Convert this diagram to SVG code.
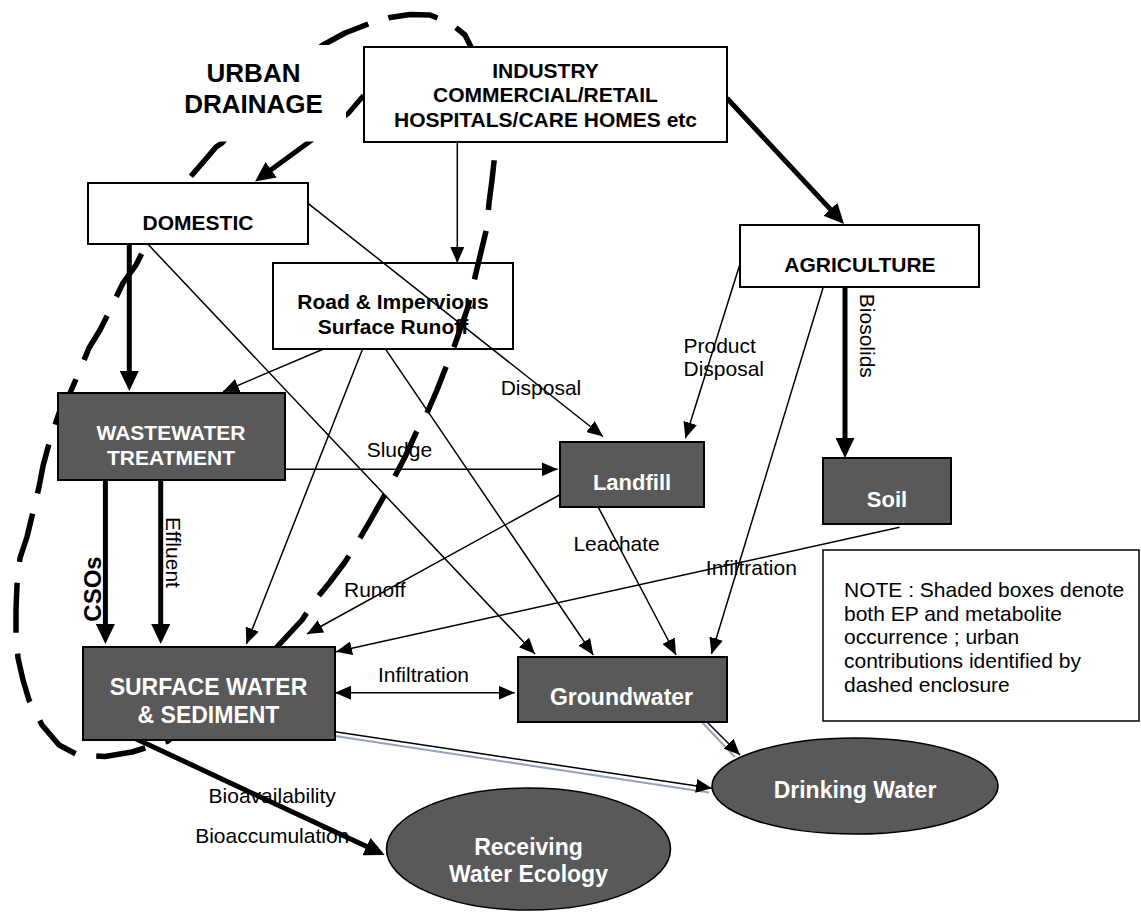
<svg xmlns="http://www.w3.org/2000/svg" width="1141" height="913" viewBox="0 0 1141 913">
<defs>
<style>
.box{fill:#fff;stroke:#000;stroke-width:2}
.dark{fill:#595959;stroke:#000;stroke-width:2}
.ell{fill:#595959;stroke:#000;stroke-width:1.6}
.tb{font-family:"Liberation Sans",Arial,sans-serif;font-weight:bold;font-size:21px;fill:#000;text-anchor:middle}
.tw{font-family:"Liberation Sans",Arial,sans-serif;font-weight:bold;font-size:21px;fill:#fff;text-anchor:middle}
.el{font-family:"Liberation Sans",Arial,sans-serif;font-size:21px;fill:#000}
.thin{stroke:#000;stroke-width:1.5;fill:none;marker-end:url(#ah)}
.thick{stroke:#000;stroke-width:5;fill:none;marker-end:url(#AH)}
.shadow{stroke:#94a3bb;stroke-width:2;fill:none}
.encl{fill:none;stroke:#000;stroke-width:5.5;stroke-dasharray:50 21;stroke-linejoin:round}
</style>
<marker id="ah" markerUnits="userSpaceOnUse" markerWidth="16" markerHeight="14" refX="16" refY="7" orient="auto"><path d="M0,0 L16,7 L0,14 Z" fill="#000"/></marker>
<marker id="ah2" markerUnits="userSpaceOnUse" markerWidth="16" markerHeight="14" refX="16" refY="7" orient="auto-start-reverse"><path d="M0,0 L16,7 L0,14 Z" fill="#000"/></marker>
<marker id="AH" markerUnits="userSpaceOnUse" markerWidth="20" markerHeight="19" refX="12" refY="9.5" orient="auto"><path d="M0,0 L20,9.5 L0,19 Z" fill="#000"/></marker>
</defs>

<g id="road">
<rect class="box" x="273" y="263" width="240" height="86"/>
<text class="tb" x="393" y="309.3">Road &amp; Impervious</text>
<text class="tb" x="393" y="334.3">Surface Runoff</text>
</g>

<g id="edge-labels">
<text class="el" x="366.7" y="456.7">Sludge</text>
<text class="el" x="500.7" y="395">Disposal</text>
<text class="el" x="344" y="596.7">Runoff</text>
<text class="el" x="573.4" y="550.7">Leachate</text>
<text class="el" x="705.8" y="575">Infiltration</text>
<text class="el" x="378" y="681.7">Infiltration</text>
<text class="el" x="683.5" y="353.3">Product</text>
<text class="el" x="683.5" y="376">Disposal</text>
<text class="el" x="208.6" y="803.3">Bioavailability</text>
<text class="el" x="195.2" y="842.7">Bioaccumulation</text>
<text class="el" text-anchor="middle" transform="translate(166,552.5) rotate(90)">Effluent</text>
<text class="el" text-anchor="middle" transform="translate(860,335.8) rotate(90)">Biosolids</text>
<text class="tb" style="font-size:24px" transform="translate(100.5,589) rotate(-90)">CSOs</text>
</g>

<g id="connectors">
<path class="thick" d="M727,98.3 L838.6,218.1"/>
<path class="thin" d="M457.3,142.3 L457.3,263"/>
<path class="thick" d="M363.6,95.5 L348.3,113.3 L261.5,176.8"/>
<path class="thick" d="M129.3,244.3 L129.3,383"/>
<path class="thin" d="M308,203.3 L603,436.5"/>
<path class="thin" d="M148,244.3 L535,654"/>
<path class="thin" d="M323,349.3 L223,391.7"/>
<path class="thin" d="M362.5,349.3 L246.4,644"/>
<path class="thin" d="M385.7,349.3 L593.3,655"/>
<path class="thin" d="M284.6,469.3 L557.7,469.3"/>
<path class="thick" d="M105.4,480 L105.4,636"/>
<path class="thick" d="M160.7,480 L160.7,636"/>
<path class="thin" d="M559.5,495 L307,634"/>
<path class="thin" d="M598,506.7 L676,655"/>
<path class="thin" d="M899.6,527.3 L336,651.7"/>
<path class="thin" d="M740.2,263.3 L685.4,438.3"/>
<path class="thin" d="M823.2,287.3 L711.5,654"/>
<path class="thick" d="M845,287.3 L845,450"/>
<path class="thin" style="marker-start:url(#ah2);marker-end:url(#ah2)" d="M335,692.7 L514.7,692.7"/>
<path class="shadow" d="M697,717 L735,757"/>
<path class="thin" d="M700,715 L740,755"/>
<path class="shadow" d="M335,736 L709,792.5"/>
<path class="thin" d="M335,731.7 L712,788.3"/>
<path class="thick" d="M132,737 L377.4,851.6"/>
</g>

<g id="urban-enclosure">
<path class="encl" d="M323,45 L345,33 L371,23 L390,17.5 L410,14.5 L430,15 L450,23 L465,35 L471,47 L482,75 L490,105 L495,135 L495,153 L492,180 L489,203 L487,227 L481,252 L475,277 L468,307 L461,327 L454,347 L446,367 L437,390 L427,413 L416,433 L405,457 L393,480 L383,498 L370,521 L357,543 L345,562 L330,582 L313,603 L302,620 L289,634 L277,647 L230,688 L168,741 L145,748 L132,752 L105,756.5 L78,755 L59,745 L42,725 L29,700 L23,680 L18,658 L16,637 L16,610 L17,585 L20,558 L27,537 L33,512 L39,487 L43,466 L50,440 L59,413 L70,393 L80,370 L89,348 L100,330 L112,306 L123,283 L136,265 L146,245 L166,213 L186,182 L205,160 L216,147 L222,143 L260,100 L290,72 Z"/>
</g>

<g id="industry">
<rect class="box" x="364" y="47" width="363" height="95"/>
<text class="tb" x="545.5" y="77.5">INDUSTRY</text>
<text class="tb" x="545.5" y="102">COMMERCIAL/RETAIL</text>
<text class="tb" x="545.5" y="126.5">HOSPITALS/CARE HOMES etc</text>
</g>

<g id="domestic">
<rect class="box" x="88" y="183" width="220" height="61"/>
<text class="tb" x="198" y="229.5">DOMESTIC</text>
</g>

<g id="agriculture">
<rect class="box" x="740" y="225" width="239" height="62"/>
<text class="tb" x="860" y="271.7">AGRICULTURE</text>
</g>

<g id="wastewater">
<rect class="dark" x="58" y="393" width="227" height="87"/>
<text class="tw" x="171" y="440">WASTEWATER</text>
<text class="tw" x="171" y="465">TREATMENT</text>
</g>

<g id="landfill">
<rect class="dark" x="560" y="442" width="144" height="65"/>
<text class="tw" style="font-size:22px" x="632" y="490">Landfill</text>
</g>

<g id="soil">
<rect class="dark" x="823" y="458" width="128" height="66"/>
<text class="tw" style="font-size:22px" x="887" y="507">Soil</text>
</g>

<g id="surface-water">
<rect class="dark" x="83" y="647" width="252" height="93"/>
<text class="tw" style="font-size:23px" x="208.5" y="695">SURFACE WATER</text>
<text class="tw" style="font-size:23px" x="208.5" y="723.3">&amp; SEDIMENT</text>
</g>

<g id="groundwater">
<rect class="dark" x="518" y="657" width="209" height="65"/>
<text class="tw" style="font-size:23px" x="621.5" y="705">Groundwater</text>
</g>

<g id="drinking-water">
<ellipse class="ell" cx="855" cy="786" rx="143" ry="48"/>
<text class="tw" style="font-size:23px" x="855" y="798.3">Drinking Water</text>
</g>

<g id="receiving-water">
<ellipse class="ell" cx="528.5" cy="849" rx="142" ry="61"/>
<text class="tw" style="font-size:23px" x="528.5" y="855">Receiving</text>
<text class="tw" style="font-size:23px" x="528.5" y="881.7">Water Ecology</text>
</g>

<g id="note">
<rect x="823" y="550" width="316" height="171" fill="#fff" stroke="#000" stroke-width="1.5"/>
<text class="el" x="844" y="597">NOTE : Shaded boxes denote</text>
<text class="el" x="844" y="620.7">both EP and metabolite</text>
<text class="el" x="844" y="644.4">occurrence ; urban</text>
<text class="el" x="844" y="668">contributions identified by</text>
<text class="el" x="844" y="691.7">dashed enclosure</text>
</g>

<g id="urban-drainage">
<rect x="178" y="45" width="168" height="96.5" fill="#fff"/>
<text class="tb" style="font-size:26px" x="253.5" y="81.7">URBAN</text>
<text class="tb" style="font-size:26px" x="253.5" y="112.7">DRAINAGE</text>
</g>
</svg>
